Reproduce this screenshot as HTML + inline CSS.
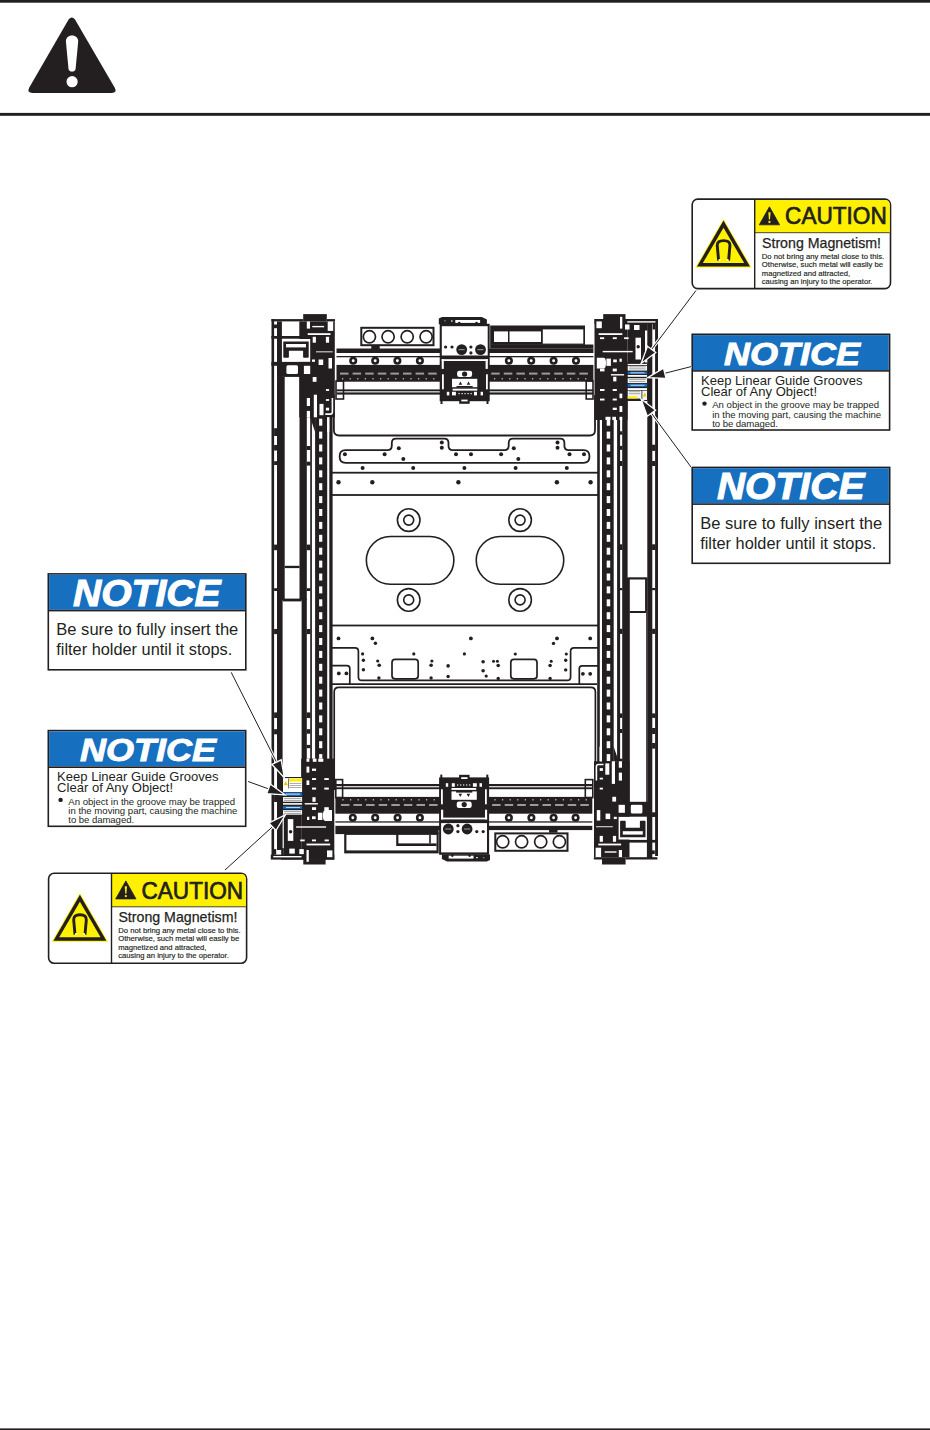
<!DOCTYPE html>
<html><head><meta charset="utf-8"><style>
html,body{margin:0;padding:0;background:#fff;}
body{width:930px;height:1430px;overflow:hidden;position:relative;}
svg{position:absolute;left:0;top:0;}
text{font-family:"Liberation Sans",sans-serif;}
</style></head><body>
<svg width="930" height="1430" viewBox="0 0 930 1430">
<rect x="0.00" y="0.00" width="930.00" height="2.70" fill="#231f20" />
<rect x="0.00" y="112.90" width="930.00" height="2.90" fill="#231f20" />
<rect x="0.00" y="1428.40" width="930.00" height="1.60" fill="#231f20" />
<path d="M68.6,19.6 Q71.8,15.2 75.0,19.6 L114.6,87.6 Q117.6,92.9 111.6,92.9 L32.5,92.9 Q26.5,92.9 29.3,87.6 Z" fill="#231f20"/>
<path d="M72.0,35.5 C75.6,35.5 78.4,38 78.2,41.6 L75.6,68.8 Q75.3,71.6 72.0,71.6 Q68.8,71.6 68.5,68.8 L65.9,41.6 C65.7,38 68.4,35.5 72.0,35.5 Z" fill="#fff"/>
<circle cx="72.10" cy="81.70" r="5.6" fill="#fff"/>
<rect x="692.20" y="199.10" width="198.30" height="89.50" rx="5.5" fill="#fff" stroke="#231f20" stroke-width="1.6"/>
<path d="M754.50,199.90 L885.00,199.90 Q889.70,199.90 889.70,204.60 L889.70,232.30 L754.50,232.30 Z" fill="#fff000"/>
<rect x="754.40" y="232.10" width="135.30" height="1.10" fill="#5a5520" />
<rect x="754.00" y="199.10" width="1.40" height="89.50" fill="#231f20" />
<path d="M769.45,206.80 L779.60,224.80 L759.30,224.80 Z" fill="#231f20" stroke="#231f20" stroke-width="0.8" stroke-linejoin="round"/>
<path d="M768.30,212.20 L770.60,212.20 L770.00,219.60 L768.90,219.60 Z" fill="#fff000"/>
<circle cx="769.45" cy="222.00" r="1.15" fill="#fff000"/>
<text x="785.10" y="224.40" font-size="23.2" font-weight="normal" font-style="normal" fill="#231f20" textLength="101.60" lengthAdjust="spacingAndGlyphs" stroke="#231f20" stroke-width="0.7">CAUTION</text>
<text x="762.00" y="247.80" font-size="14.6" font-weight="normal" font-style="normal" fill="#231f20" textLength="119.00" lengthAdjust="spacingAndGlyphs" stroke="#231f20" stroke-width="0.25">Strong Magnetism!</text>
<text x="761.80" y="259.00" font-size="7.0" font-weight="normal" font-style="normal" fill="#231f20" textLength="122.40" lengthAdjust="spacingAndGlyphs" stroke="#231f20" stroke-width="0.15">Do not bring any metal close to this.</text>
<text x="761.80" y="267.27" font-size="7.0" font-weight="normal" font-style="normal" fill="#231f20" textLength="121.20" lengthAdjust="spacingAndGlyphs" stroke="#231f20" stroke-width="0.15">Otherwise, such metal will easily be</text>
<text x="761.80" y="275.54" font-size="7.0" font-weight="normal" font-style="normal" fill="#231f20" textLength="88.30" lengthAdjust="spacingAndGlyphs" stroke="#231f20" stroke-width="0.15">magnetized and attracted,</text>
<text x="761.80" y="283.81" font-size="7.0" font-weight="normal" font-style="normal" fill="#231f20" textLength="110.60" lengthAdjust="spacingAndGlyphs" stroke="#231f20" stroke-width="0.15">causing an injury to the operator.</text>
<path d="M723.50,219.00 L751.60,267.60 L695.40,267.60 Z" fill="#fff000"/>
<path d="M723.50,220.60 L750.00,266.60 L697.00,266.60 Z" fill="#231f20"/>
<path d="M723.50,227.70 L744.20,263.10 L702.80,263.10 Z" fill="#fff000"/>
<path d="M718.60,260.50 L717.30,246.00 Q716.80,240.60 723.60,240.60 Q730.40,240.60 729.90,246.00 L728.60,260.50" fill="none" stroke="#231f20" stroke-width="2.9"/>
<circle cx="719.60" cy="260.00" r="1.1" fill="#fff"/>
<circle cx="727.60" cy="260.00" r="1.1" fill="#fff"/>
<rect x="692.20" y="334.30" width="197.40" height="95.70" fill="#fff" stroke="#231f20" stroke-width="1.6"/>
<rect x="693.00" y="335.10" width="195.80" height="35.00" fill="#176fbf" />
<rect x="692.20" y="370.10" width="197.40" height="1.60" fill="#231f20" />
<text x="724.00" y="364.60" font-size="31.8" font-weight="bold" font-style="italic" fill="#fff" textLength="136.00" lengthAdjust="spacingAndGlyphs" stroke="#fff" stroke-width="0.9">NOTICE</text>
<text x="701.00" y="384.80" font-size="13.3" font-weight="normal" font-style="normal" fill="#231f20" textLength="161.50" lengthAdjust="spacingAndGlyphs" >Keep Linear Guide Grooves</text>
<text x="701.00" y="396.00" font-size="13.3" font-weight="normal" font-style="normal" fill="#231f20" textLength="116.00" lengthAdjust="spacingAndGlyphs" >Clear of Any Object!</text>
<circle cx="704.50" cy="403.60" r="2.2" fill="#231f20"/>
<text x="712.20" y="408.40" font-size="9.6" font-weight="normal" font-style="normal" fill="#231f20" textLength="166.90" lengthAdjust="spacing" >An object in the groove may be trapped</text>
<text x="712.20" y="417.75" font-size="9.6" font-weight="normal" font-style="normal" fill="#231f20" textLength="169.00" lengthAdjust="spacing" >in the moving part, causing the machine</text>
<text x="712.20" y="427.10" font-size="9.6" font-weight="normal" font-style="normal" fill="#231f20" textLength="65.80" lengthAdjust="spacing" >to be damaged.</text>
<rect x="692.20" y="467.40" width="197.50" height="95.90" fill="#fff" stroke="#231f20" stroke-width="1.6"/>
<rect x="693.00" y="468.20" width="195.90" height="35.10" fill="#176fbf" />
<rect x="692.20" y="503.30" width="197.50" height="1.60" fill="#231f20" />
<text x="716.90" y="499.00" font-size="36.4" font-weight="bold" font-style="italic" fill="#fff" textLength="147.60" lengthAdjust="spacingAndGlyphs" stroke="#fff" stroke-width="1.0">NOTICE</text>
<text x="700.20" y="528.60" font-size="16.3" font-weight="normal" font-style="normal" fill="#231f20" textLength="182.00" lengthAdjust="spacingAndGlyphs" >Be sure to fully insert the</text>
<text x="700.20" y="548.70" font-size="16.3" font-weight="normal" font-style="normal" fill="#231f20" textLength="176.00" lengthAdjust="spacingAndGlyphs" >filter holder until it stops.</text>
<rect x="48.30" y="573.90" width="197.50" height="95.90" fill="#fff" stroke="#231f20" stroke-width="1.6"/>
<rect x="49.10" y="574.70" width="195.90" height="35.10" fill="#176fbf" />
<rect x="48.30" y="609.80" width="197.50" height="1.60" fill="#231f20" />
<text x="73.00" y="605.50" font-size="36.4" font-weight="bold" font-style="italic" fill="#fff" textLength="147.60" lengthAdjust="spacingAndGlyphs" stroke="#fff" stroke-width="1.0">NOTICE</text>
<text x="56.30" y="635.10" font-size="16.3" font-weight="normal" font-style="normal" fill="#231f20" textLength="182.00" lengthAdjust="spacingAndGlyphs" >Be sure to fully insert the</text>
<text x="56.30" y="655.20" font-size="16.3" font-weight="normal" font-style="normal" fill="#231f20" textLength="176.00" lengthAdjust="spacingAndGlyphs" >filter holder until it stops.</text>
<rect x="48.30" y="730.60" width="197.40" height="95.70" fill="#fff" stroke="#231f20" stroke-width="1.6"/>
<rect x="49.10" y="731.40" width="195.80" height="35.00" fill="#176fbf" />
<rect x="48.30" y="766.40" width="197.40" height="1.60" fill="#231f20" />
<text x="80.10" y="760.90" font-size="31.8" font-weight="bold" font-style="italic" fill="#fff" textLength="136.00" lengthAdjust="spacingAndGlyphs" stroke="#fff" stroke-width="0.9">NOTICE</text>
<text x="57.10" y="781.10" font-size="13.3" font-weight="normal" font-style="normal" fill="#231f20" textLength="161.50" lengthAdjust="spacingAndGlyphs" >Keep Linear Guide Grooves</text>
<text x="57.10" y="792.30" font-size="13.3" font-weight="normal" font-style="normal" fill="#231f20" textLength="116.00" lengthAdjust="spacingAndGlyphs" >Clear of Any Object!</text>
<circle cx="60.60" cy="799.90" r="2.2" fill="#231f20"/>
<text x="68.30" y="804.70" font-size="9.6" font-weight="normal" font-style="normal" fill="#231f20" textLength="166.90" lengthAdjust="spacing" >An object in the groove may be trapped</text>
<text x="68.30" y="814.05" font-size="9.6" font-weight="normal" font-style="normal" fill="#231f20" textLength="169.00" lengthAdjust="spacing" >in the moving part, causing the machine</text>
<text x="68.30" y="823.40" font-size="9.6" font-weight="normal" font-style="normal" fill="#231f20" textLength="65.80" lengthAdjust="spacing" >to be damaged.</text>
<rect x="48.60" y="873.20" width="198.00" height="90.00" rx="5.5" fill="#fff" stroke="#231f20" stroke-width="1.6"/>
<path d="M111.30,874.00 L241.10,874.00 Q245.80,874.00 245.80,878.70 L245.80,906.40 L111.30,906.40 Z" fill="#fff000"/>
<rect x="111.20" y="906.20" width="134.60" height="1.10" fill="#5a5520" />
<rect x="110.80" y="873.20" width="1.40" height="90.00" fill="#231f20" />
<path d="M125.85,880.90 L136.00,898.90 L115.70,898.90 Z" fill="#231f20" stroke="#231f20" stroke-width="0.8" stroke-linejoin="round"/>
<path d="M124.70,886.30 L127.00,886.30 L126.40,893.70 L125.30,893.70 Z" fill="#fff000"/>
<circle cx="125.85" cy="896.10" r="1.15" fill="#fff000"/>
<text x="141.50" y="898.50" font-size="23.2" font-weight="normal" font-style="normal" fill="#231f20" textLength="101.60" lengthAdjust="spacingAndGlyphs" stroke="#231f20" stroke-width="0.7">CAUTION</text>
<text x="118.40" y="921.90" font-size="14.6" font-weight="normal" font-style="normal" fill="#231f20" textLength="119.00" lengthAdjust="spacingAndGlyphs" stroke="#231f20" stroke-width="0.25">Strong Magnetism!</text>
<text x="118.20" y="933.10" font-size="7.0" font-weight="normal" font-style="normal" fill="#231f20" textLength="122.40" lengthAdjust="spacingAndGlyphs" stroke="#231f20" stroke-width="0.15">Do not bring any metal close to this.</text>
<text x="118.20" y="941.37" font-size="7.0" font-weight="normal" font-style="normal" fill="#231f20" textLength="121.20" lengthAdjust="spacingAndGlyphs" stroke="#231f20" stroke-width="0.15">Otherwise, such metal will easily be</text>
<text x="118.20" y="949.64" font-size="7.0" font-weight="normal" font-style="normal" fill="#231f20" textLength="88.30" lengthAdjust="spacingAndGlyphs" stroke="#231f20" stroke-width="0.15">magnetized and attracted,</text>
<text x="118.20" y="957.91" font-size="7.0" font-weight="normal" font-style="normal" fill="#231f20" textLength="110.60" lengthAdjust="spacingAndGlyphs" stroke="#231f20" stroke-width="0.15">causing an injury to the operator.</text>
<path d="M79.90,893.10 L108.00,941.70 L51.80,941.70 Z" fill="#fff000"/>
<path d="M79.90,894.70 L106.40,940.70 L53.40,940.70 Z" fill="#231f20"/>
<path d="M79.90,901.80 L100.60,937.20 L59.20,937.20 Z" fill="#fff000"/>
<path d="M75.00,934.60 L73.70,920.10 Q73.20,914.70 80.00,914.70 Q86.80,914.70 86.30,920.10 L85.00,934.60" fill="none" stroke="#231f20" stroke-width="2.9"/>
<circle cx="76.00" cy="934.10" r="1.1" fill="#fff"/>
<circle cx="84.00" cy="934.10" r="1.1" fill="#fff"/>
<rect x="271.50" y="319.00" width="2.60" height="537.00" fill="#231f20" />
<rect x="274.10" y="428.20" width="3.10" height="7.80" fill="#231f20" />
<rect x="274.10" y="445.00" width="3.10" height="5.50" fill="#231f20" />
<rect x="274.10" y="461.20" width="3.10" height="3.80" fill="#231f20" />
<rect x="274.10" y="544.60" width="3.10" height="5.60" fill="#231f20" />
<rect x="274.10" y="588.20" width="3.10" height="2.80" fill="#231f20" />
<rect x="274.10" y="629.00" width="3.10" height="5.10" fill="#231f20" />
<rect x="274.10" y="712.40" width="3.10" height="5.60" fill="#231f20" />
<rect x="274.10" y="729.20" width="3.10" height="5.10" fill="#231f20" />
<rect x="274.10" y="795.00" width="3.10" height="7.00" fill="#231f20" />
<rect x="277.00" y="376.70" width="7.70" height="223.30" fill="#231f20" />
<rect x="277.00" y="599.00" width="5.60" height="251.00" fill="#231f20" />
<rect x="284.70" y="565.80" width="14.90" height="2.30" fill="#231f20" />
<rect x="282.60" y="598.60" width="19.00" height="2.80" fill="#231f20" />
<rect x="299.50" y="376.00" width="7.30" height="224.00" fill="#231f20" />
<rect x="301.60" y="599.00" width="5.20" height="181.00" fill="#231f20" />
<rect x="306.60" y="405.80" width="3.80" height="5.00" fill="#231f20" />
<rect x="306.60" y="446.00" width="3.80" height="4.00" fill="#231f20" />
<rect x="306.60" y="461.70" width="3.80" height="3.90" fill="#231f20" />
<rect x="306.60" y="544.60" width="3.80" height="5.60" fill="#231f20" />
<rect x="306.60" y="588.20" width="3.80" height="2.80" fill="#231f20" />
<rect x="306.60" y="629.00" width="3.80" height="5.10" fill="#231f20" />
<rect x="306.60" y="712.40" width="3.80" height="5.60" fill="#231f20" />
<rect x="306.60" y="729.20" width="3.80" height="4.50" fill="#231f20" />
<rect x="306.60" y="744.90" width="3.80" height="3.30" fill="#231f20" />
<rect x="310.20" y="400.00" width="1.70" height="380.00" fill="#231f20" />
<rect x="315.10" y="380.00" width="12.10" height="420.00" fill="#231f20" />
<rect x="319.10" y="418.70" width="3.20" height="7.00" fill="#fff" />
<rect x="319.10" y="431.60" width="3.20" height="7.00" fill="#fff" />
<rect x="319.10" y="444.50" width="3.20" height="7.00" fill="#fff" />
<rect x="319.10" y="457.40" width="3.20" height="7.00" fill="#fff" />
<rect x="319.10" y="470.30" width="3.20" height="7.00" fill="#fff" />
<rect x="319.10" y="483.20" width="3.20" height="7.00" fill="#fff" />
<rect x="319.10" y="496.10" width="3.20" height="7.00" fill="#fff" />
<rect x="319.10" y="509.00" width="3.20" height="7.00" fill="#fff" />
<rect x="319.10" y="521.90" width="3.20" height="7.00" fill="#fff" />
<rect x="319.10" y="534.80" width="3.20" height="7.00" fill="#fff" />
<rect x="319.10" y="547.70" width="3.20" height="7.00" fill="#fff" />
<rect x="319.10" y="560.60" width="3.20" height="7.00" fill="#fff" />
<rect x="319.10" y="573.50" width="3.20" height="7.00" fill="#fff" />
<rect x="319.10" y="586.40" width="3.20" height="7.00" fill="#fff" />
<rect x="319.10" y="599.30" width="3.20" height="7.00" fill="#fff" />
<rect x="319.10" y="612.20" width="3.20" height="7.00" fill="#fff" />
<rect x="319.10" y="625.10" width="3.20" height="7.00" fill="#fff" />
<rect x="319.10" y="638.00" width="3.20" height="7.00" fill="#fff" />
<rect x="319.10" y="650.90" width="3.20" height="7.00" fill="#fff" />
<rect x="319.10" y="663.80" width="3.20" height="7.00" fill="#fff" />
<rect x="319.10" y="676.70" width="3.20" height="7.00" fill="#fff" />
<rect x="319.10" y="689.60" width="3.20" height="7.00" fill="#fff" />
<rect x="319.10" y="702.50" width="3.20" height="7.00" fill="#fff" />
<rect x="319.10" y="715.40" width="3.20" height="7.00" fill="#fff" />
<rect x="319.10" y="728.30" width="3.20" height="7.00" fill="#fff" />
<rect x="319.10" y="741.20" width="3.20" height="7.00" fill="#fff" />
<rect x="319.10" y="754.10" width="3.20" height="7.00" fill="#fff" />
<rect x="319.10" y="767.00" width="3.20" height="7.00" fill="#fff" />
<rect x="329.30" y="400.00" width="3.30" height="390.00" fill="#231f20" />
<rect x="655.10" y="319.00" width="2.90" height="537.00" fill="#231f20" />
<rect x="652.10" y="444.70" width="3.20" height="6.20" fill="#231f20" />
<rect x="652.10" y="461.00" width="3.20" height="5.00" fill="#231f20" />
<rect x="652.10" y="544.30" width="3.20" height="5.70" fill="#231f20" />
<rect x="652.10" y="588.00" width="3.20" height="2.20" fill="#231f20" />
<rect x="652.10" y="628.80" width="3.20" height="5.10" fill="#231f20" />
<rect x="652.10" y="713.40" width="3.20" height="4.50" fill="#231f20" />
<rect x="652.10" y="728.00" width="3.20" height="6.00" fill="#231f20" />
<rect x="652.10" y="743.00" width="3.20" height="5.60" fill="#231f20" />
<rect x="652.10" y="812.40" width="3.20" height="4.50" fill="#231f20" />
<rect x="647.30" y="320.00" width="5.00" height="538.00" fill="#231f20" />
<rect x="645.10" y="578.00" width="2.40" height="33.50" fill="#231f20" />
<rect x="646.20" y="611.50" width="1.30" height="191.50" fill="#231f20" />
<rect x="627.40" y="577.30" width="19.90" height="2.20" fill="#231f20" />
<rect x="629.60" y="611.00" width="16.80" height="2.00" fill="#231f20" />
<rect x="622.20" y="380.00" width="5.40" height="198.00" fill="#231f20" />
<rect x="622.20" y="578.00" width="7.60" height="225.00" fill="#231f20" />
<rect x="619.80" y="431.30" width="2.60" height="3.40" fill="#231f20" />
<rect x="619.80" y="445.90" width="2.60" height="3.90" fill="#231f20" />
<rect x="619.80" y="461.00" width="2.60" height="5.00" fill="#231f20" />
<rect x="619.80" y="544.30" width="2.60" height="5.70" fill="#231f20" />
<rect x="619.80" y="588.00" width="2.60" height="2.20" fill="#231f20" />
<rect x="619.80" y="628.80" width="2.60" height="5.10" fill="#231f20" />
<rect x="619.80" y="713.40" width="2.60" height="4.50" fill="#231f20" />
<rect x="619.80" y="729.00" width="2.60" height="4.00" fill="#231f20" />
<rect x="619.80" y="758.70" width="2.60" height="3.30" fill="#231f20" />
<rect x="619.80" y="771.00" width="2.60" height="2.80" fill="#231f20" />
<rect x="617.10" y="380.00" width="3.00" height="420.00" fill="#231f20" />
<rect x="602.00" y="380.00" width="11.70" height="420.00" fill="#231f20" />
<rect x="606.70" y="418.70" width="3.50" height="7.00" fill="#fff" />
<rect x="606.70" y="431.60" width="3.50" height="7.00" fill="#fff" />
<rect x="606.70" y="444.50" width="3.50" height="7.00" fill="#fff" />
<rect x="606.70" y="457.40" width="3.50" height="7.00" fill="#fff" />
<rect x="606.70" y="470.30" width="3.50" height="7.00" fill="#fff" />
<rect x="606.70" y="483.20" width="3.50" height="7.00" fill="#fff" />
<rect x="606.70" y="496.10" width="3.50" height="7.00" fill="#fff" />
<rect x="606.70" y="509.00" width="3.50" height="7.00" fill="#fff" />
<rect x="606.70" y="521.90" width="3.50" height="7.00" fill="#fff" />
<rect x="606.70" y="534.80" width="3.50" height="7.00" fill="#fff" />
<rect x="606.70" y="547.70" width="3.50" height="7.00" fill="#fff" />
<rect x="606.70" y="560.60" width="3.50" height="7.00" fill="#fff" />
<rect x="606.70" y="573.50" width="3.50" height="7.00" fill="#fff" />
<rect x="606.70" y="586.40" width="3.50" height="7.00" fill="#fff" />
<rect x="606.70" y="599.30" width="3.50" height="7.00" fill="#fff" />
<rect x="606.70" y="612.20" width="3.50" height="7.00" fill="#fff" />
<rect x="606.70" y="625.10" width="3.50" height="7.00" fill="#fff" />
<rect x="606.70" y="638.00" width="3.50" height="7.00" fill="#fff" />
<rect x="606.70" y="650.90" width="3.50" height="7.00" fill="#fff" />
<rect x="606.70" y="663.80" width="3.50" height="7.00" fill="#fff" />
<rect x="606.70" y="676.70" width="3.50" height="7.00" fill="#fff" />
<rect x="606.70" y="689.60" width="3.50" height="7.00" fill="#fff" />
<rect x="606.70" y="702.50" width="3.50" height="7.00" fill="#fff" />
<rect x="606.70" y="715.40" width="3.50" height="7.00" fill="#fff" />
<rect x="606.70" y="728.30" width="3.50" height="7.00" fill="#fff" />
<rect x="606.70" y="741.20" width="3.50" height="7.00" fill="#fff" />
<rect x="606.70" y="754.10" width="3.50" height="7.00" fill="#fff" />
<rect x="606.70" y="767.00" width="3.50" height="7.00" fill="#fff" />
<rect x="597.20" y="400.00" width="2.60" height="390.00" fill="#231f20" />
<rect x="627.60" y="802.90" width="19.90" height="3.10" fill="#231f20" />
<path d="M333.9,395 V430.3 Q333.9,435.5 339.1,435.5 H589.8 Q595,435.5 595,430.3 V395" fill="none" stroke="#231f20" stroke-width="1.8"/>
<path d="M345.5,450.1 H387.5 Q391.8,450.1 391.8,445.8 V443 Q391.8,438.7 396.1,438.7 H444.2 Q448.5,438.7 448.5,443 V445.8 Q448.5,450.1 452.8,450.1 H504.4 Q508.7,450.1 508.7,445.8 V443 Q508.7,438.7 513,438.7 H560.1 Q564.4,438.7 564.4,443 V445.8 Q564.4,450.1 568.7,450.1 H583.6 Q589.4,450.1 589.4,455.9 V457 Q589.4,462.8 583.6,462.8 H345.5 Q339.7,462.8 339.7,457 V455.9 Q339.7,450.1 345.5,450.1 Z" fill="none" stroke="#231f20" stroke-width="1.8"/>
<circle cx="344.90" cy="454.30" r="2.0" fill="#231f20"/>
<circle cx="384.60" cy="454.30" r="2.0" fill="#231f20"/>
<circle cx="398.80" cy="448.30" r="2.0" fill="#231f20"/>
<circle cx="403.30" cy="459.10" r="2.0" fill="#231f20"/>
<circle cx="441.80" cy="442.60" r="2.0" fill="#231f20"/>
<circle cx="441.80" cy="447.70" r="2.0" fill="#231f20"/>
<circle cx="456.00" cy="454.30" r="2.0" fill="#231f20"/>
<circle cx="471.00" cy="454.30" r="2.0" fill="#231f20"/>
<circle cx="501.10" cy="454.30" r="2.0" fill="#231f20"/>
<circle cx="513.80" cy="448.30" r="2.0" fill="#231f20"/>
<circle cx="518.30" cy="459.10" r="2.0" fill="#231f20"/>
<circle cx="557.50" cy="442.60" r="2.0" fill="#231f20"/>
<circle cx="557.50" cy="447.70" r="2.0" fill="#231f20"/>
<circle cx="569.50" cy="454.30" r="2.0" fill="#231f20"/>
<circle cx="584.00" cy="454.30" r="2.0" fill="#231f20"/>
<circle cx="362.60" cy="467.90" r="2.0" fill="#231f20"/>
<circle cx="413.20" cy="467.90" r="2.0" fill="#231f20"/>
<circle cx="464.40" cy="467.90" r="2.0" fill="#231f20"/>
<circle cx="515.60" cy="467.90" r="2.0" fill="#231f20"/>
<circle cx="566.80" cy="467.90" r="2.0" fill="#231f20"/>
<rect x="331.60" y="471.80" width="267.40" height="1.80" fill="#231f20" />
<circle cx="338.50" cy="482.30" r="2.2" fill="#231f20"/>
<circle cx="372.30" cy="482.30" r="2.2" fill="#231f20"/>
<circle cx="458.40" cy="482.30" r="2.2" fill="#231f20"/>
<circle cx="556.90" cy="482.30" r="2.2" fill="#231f20"/>
<circle cx="590.60" cy="482.30" r="2.2" fill="#231f20"/>
<rect x="331.60" y="494.10" width="267.40" height="1.80" fill="#231f20" />
<circle cx="408.70" cy="520.10" r="11.3" fill="none" stroke="#231f20" stroke-width="1.6"/>
<circle cx="408.70" cy="520.10" r="5.0" fill="none" stroke="#231f20" stroke-width="1.6"/>
<circle cx="520.10" cy="520.10" r="11.3" fill="none" stroke="#231f20" stroke-width="1.6"/>
<circle cx="520.10" cy="520.10" r="5.0" fill="none" stroke="#231f20" stroke-width="1.6"/>
<circle cx="408.70" cy="599.90" r="11.3" fill="none" stroke="#231f20" stroke-width="1.6"/>
<circle cx="408.70" cy="599.90" r="5.0" fill="none" stroke="#231f20" stroke-width="1.6"/>
<circle cx="520.10" cy="599.90" r="11.3" fill="none" stroke="#231f20" stroke-width="1.6"/>
<circle cx="520.10" cy="599.90" r="5.0" fill="none" stroke="#231f20" stroke-width="1.6"/>
<rect x="366.35" y="536.45" width="87.5" height="47.8" rx="23.9" fill="none" stroke="#231f20" stroke-width="1.6"/>
<rect x="476.25" y="536.45" width="87.5" height="47.8" rx="23.9" fill="none" stroke="#231f20" stroke-width="1.6"/>
<rect x="331.60" y="624.60" width="267.40" height="1.80" fill="#231f20" />
<circle cx="338.50" cy="638.40" r="1.9" fill="#231f20"/>
<circle cx="372.40" cy="638.40" r="1.9" fill="#231f20"/>
<circle cx="375.40" cy="643.30" r="1.7" fill="#231f20"/>
<circle cx="362.60" cy="653.90" r="1.6" fill="#231f20"/>
<circle cx="363.40" cy="660.30" r="1.7" fill="#231f20"/>
<circle cx="363.40" cy="669.70" r="1.7" fill="#231f20"/>
<circle cx="377.70" cy="661.00" r="1.6" fill="#231f20"/>
<circle cx="379.20" cy="665.20" r="1.8" fill="#231f20"/>
<circle cx="378.90" cy="678.00" r="1.7" fill="#231f20"/>
<circle cx="413.80" cy="653.90" r="1.6" fill="#231f20"/>
<circle cx="431.90" cy="661.00" r="1.6" fill="#231f20"/>
<circle cx="431.10" cy="665.20" r="1.8" fill="#231f20"/>
<circle cx="431.10" cy="678.00" r="1.7" fill="#231f20"/>
<circle cx="448.10" cy="665.90" r="1.8" fill="#231f20"/>
<circle cx="448.10" cy="676.50" r="1.7" fill="#231f20"/>
<circle cx="464.40" cy="653.90" r="1.6" fill="#231f20"/>
<circle cx="338.80" cy="673.40" r="1.9" fill="#231f20"/>
<circle cx="346.40" cy="673.40" r="1.9" fill="#231f20"/>
<circle cx="470.90" cy="638.40" r="1.9" fill="#231f20"/>
<circle cx="557.00" cy="638.40" r="1.9" fill="#231f20"/>
<circle cx="553.50" cy="643.40" r="1.7" fill="#231f20"/>
<circle cx="590.20" cy="638.40" r="1.9" fill="#231f20"/>
<circle cx="515.30" cy="654.00" r="1.6" fill="#231f20"/>
<circle cx="566.30" cy="654.00" r="1.6" fill="#231f20"/>
<circle cx="565.70" cy="660.20" r="1.7" fill="#231f20"/>
<circle cx="565.70" cy="669.90" r="1.7" fill="#231f20"/>
<circle cx="483.10" cy="661.80" r="1.8" fill="#231f20"/>
<circle cx="483.10" cy="670.70" r="1.8" fill="#231f20"/>
<circle cx="486.20" cy="676.10" r="1.6" fill="#231f20"/>
<circle cx="493.50" cy="661.30" r="1.5" fill="#231f20"/>
<circle cx="497.40" cy="661.30" r="1.5" fill="#231f20"/>
<circle cx="498.20" cy="665.50" r="1.8" fill="#231f20"/>
<circle cx="498.20" cy="678.50" r="1.7" fill="#231f20"/>
<circle cx="551.20" cy="661.30" r="1.5" fill="#231f20"/>
<circle cx="550.10" cy="665.50" r="1.8" fill="#231f20"/>
<circle cx="550.10" cy="678.50" r="1.7" fill="#231f20"/>
<circle cx="582.90" cy="673.80" r="1.9" fill="#231f20"/>
<circle cx="590.20" cy="673.80" r="1.9" fill="#231f20"/>
<path d="M332,647.8 H355 Q358.4,647.8 358.4,651.2 V677 Q358.4,680.4 361.8,680.4 H567.2 Q570.6,680.4 570.6,677 V651.2 Q570.6,647.8 574,647.8 H598" fill="none" stroke="#231f20" stroke-width="1.7"/>
<path d="M332,665.6 H347 Q349.8,665.6 349.8,668.4 V684.2 M598,665.8 H582 Q579.3,665.8 579.3,668.6 V684" fill="none" stroke="#231f20" stroke-width="1.7"/>
<rect x="392.00" y="659.4" width="26.2" height="19.4" rx="3" fill="none" stroke="#231f20" stroke-width="1.7"/>
<rect x="510.80" y="659.4" width="26.2" height="19.4" rx="3" fill="none" stroke="#231f20" stroke-width="1.7"/>
<path d="M332,684.2 H597" stroke="#231f20" stroke-width="1.7"/>
<path d="M334.2,790 V692 Q334.2,687.4 338.8,687.4 H590.8 Q595.4,687.4 595.4,692 V790" fill="none" stroke="#231f20" stroke-width="1.7"/>
<g>
<rect x="361.3" y="327.8" width="72.2" height="17.4" fill="none" stroke="#231f20" stroke-width="2"/>
<circle cx="369.40" cy="336.80" r="6.1" fill="none" stroke="#231f20" stroke-width="1.7"/>
<circle cx="388.10" cy="336.80" r="6.1" fill="none" stroke="#231f20" stroke-width="1.7"/>
<circle cx="407.20" cy="336.80" r="6.1" fill="none" stroke="#231f20" stroke-width="1.7"/>
<circle cx="426.10" cy="336.80" r="6.1" fill="none" stroke="#231f20" stroke-width="1.7"/>
<rect x="371.30" y="346.00" width="8.40" height="3.00" fill="#231f20" />
<rect x="490.20" y="325.50" width="94.80" height="19.40" fill="#231f20" />
<rect x="494.00" y="331.40" width="14.00" height="10.60" fill="#fff" />
<rect x="509.50" y="331.40" width="31.50" height="10.60" fill="#fff" />
<rect x="542.80" y="329.40" width="40.50" height="14.20" fill="#fff" />
<rect x="336.50" y="348.50" width="256.90" height="4.50" fill="#231f20" />
<rect x="490.20" y="344.50" width="103.20" height="4.10" fill="#231f20" />
<rect x="336.50" y="353.00" width="256.90" height="2.90" fill="#fff" />
<rect x="336.50" y="356.00" width="256.90" height="1.30" fill="#231f20" />
<circle cx="353.20" cy="360.80" r="2.75" fill="none" stroke="#231f20" stroke-width="2.6"/>
<circle cx="375.20" cy="360.80" r="2.75" fill="none" stroke="#231f20" stroke-width="2.6"/>
<circle cx="397.40" cy="360.80" r="2.75" fill="none" stroke="#231f20" stroke-width="2.6"/>
<circle cx="419.90" cy="360.80" r="2.75" fill="none" stroke="#231f20" stroke-width="2.6"/>
<circle cx="508.90" cy="360.80" r="2.75" fill="none" stroke="#231f20" stroke-width="2.6"/>
<circle cx="531.20" cy="360.80" r="2.75" fill="none" stroke="#231f20" stroke-width="2.6"/>
<circle cx="553.60" cy="360.80" r="2.75" fill="none" stroke="#231f20" stroke-width="2.6"/>
<circle cx="576.00" cy="360.80" r="2.75" fill="none" stroke="#231f20" stroke-width="2.6"/>
<rect x="336.50" y="364.90" width="256.90" height="16.80" fill="#231f20" />
<rect x="340.00" y="372.60" width="8.50" height="2.00" fill="#9a9a9a" />
<rect x="352.60" y="372.60" width="8.50" height="2.00" fill="#9a9a9a" />
<rect x="365.20" y="372.60" width="8.50" height="2.00" fill="#9a9a9a" />
<rect x="377.80" y="372.60" width="8.50" height="2.00" fill="#9a9a9a" />
<rect x="390.40" y="372.60" width="8.50" height="2.00" fill="#9a9a9a" />
<rect x="403.00" y="372.60" width="8.50" height="2.00" fill="#9a9a9a" />
<rect x="415.60" y="372.60" width="8.50" height="2.00" fill="#9a9a9a" />
<rect x="428.20" y="372.60" width="8.50" height="2.00" fill="#9a9a9a" />
<rect x="440.80" y="372.60" width="8.50" height="2.00" fill="#9a9a9a" />
<rect x="453.40" y="372.60" width="8.50" height="2.00" fill="#9a9a9a" />
<rect x="466.00" y="372.60" width="8.50" height="2.00" fill="#9a9a9a" />
<rect x="478.60" y="372.60" width="8.50" height="2.00" fill="#9a9a9a" />
<rect x="491.20" y="372.60" width="8.50" height="2.00" fill="#9a9a9a" />
<rect x="503.80" y="372.60" width="8.50" height="2.00" fill="#9a9a9a" />
<rect x="516.40" y="372.60" width="8.50" height="2.00" fill="#9a9a9a" />
<rect x="529.00" y="372.60" width="8.50" height="2.00" fill="#9a9a9a" />
<rect x="541.60" y="372.60" width="8.50" height="2.00" fill="#9a9a9a" />
<rect x="554.20" y="372.60" width="8.50" height="2.00" fill="#9a9a9a" />
<rect x="566.80" y="372.60" width="8.50" height="2.00" fill="#9a9a9a" />
<rect x="579.40" y="372.60" width="8.50" height="2.00" fill="#9a9a9a" />
<rect x="342.00" y="378.20" width="1.20" height="1.20" fill="#ddd" />
<rect x="349.60" y="378.20" width="1.20" height="1.20" fill="#ddd" />
<rect x="357.20" y="378.20" width="1.20" height="1.20" fill="#ddd" />
<rect x="364.80" y="378.20" width="1.20" height="1.20" fill="#ddd" />
<rect x="372.40" y="378.20" width="1.20" height="1.20" fill="#ddd" />
<rect x="380.00" y="378.20" width="1.20" height="1.20" fill="#ddd" />
<rect x="387.60" y="378.20" width="1.20" height="1.20" fill="#ddd" />
<rect x="395.20" y="378.20" width="1.20" height="1.20" fill="#ddd" />
<rect x="402.80" y="378.20" width="1.20" height="1.20" fill="#ddd" />
<rect x="410.40" y="378.20" width="1.20" height="1.20" fill="#ddd" />
<rect x="418.00" y="378.20" width="1.20" height="1.20" fill="#ddd" />
<rect x="425.60" y="378.20" width="1.20" height="1.20" fill="#ddd" />
<rect x="433.20" y="378.20" width="1.20" height="1.20" fill="#ddd" />
<rect x="440.80" y="378.20" width="1.20" height="1.20" fill="#ddd" />
<rect x="448.40" y="378.20" width="1.20" height="1.20" fill="#ddd" />
<rect x="456.00" y="378.20" width="1.20" height="1.20" fill="#ddd" />
<rect x="463.60" y="378.20" width="1.20" height="1.20" fill="#ddd" />
<rect x="471.20" y="378.20" width="1.20" height="1.20" fill="#ddd" />
<rect x="478.80" y="378.20" width="1.20" height="1.20" fill="#ddd" />
<rect x="486.40" y="378.20" width="1.20" height="1.20" fill="#ddd" />
<rect x="494.00" y="378.20" width="1.20" height="1.20" fill="#ddd" />
<rect x="501.60" y="378.20" width="1.20" height="1.20" fill="#ddd" />
<rect x="509.20" y="378.20" width="1.20" height="1.20" fill="#ddd" />
<rect x="516.80" y="378.20" width="1.20" height="1.20" fill="#ddd" />
<rect x="524.40" y="378.20" width="1.20" height="1.20" fill="#ddd" />
<rect x="532.00" y="378.20" width="1.20" height="1.20" fill="#ddd" />
<rect x="539.60" y="378.20" width="1.20" height="1.20" fill="#ddd" />
<rect x="547.20" y="378.20" width="1.20" height="1.20" fill="#ddd" />
<rect x="554.80" y="378.20" width="1.20" height="1.20" fill="#ddd" />
<rect x="562.40" y="378.20" width="1.20" height="1.20" fill="#ddd" />
<rect x="570.00" y="378.20" width="1.20" height="1.20" fill="#ddd" />
<rect x="577.60" y="378.20" width="1.20" height="1.20" fill="#ddd" />
<rect x="585.20" y="378.20" width="1.20" height="1.20" fill="#ddd" />
<rect x="336.50" y="389.40" width="256.90" height="1.90" fill="#231f20" />
<rect x="336.50" y="392.40" width="256.90" height="2.20" fill="#231f20" />
<rect x="336" y="381" width="7.5" height="18" fill="none" stroke="#231f20" stroke-width="1.6"/>
<rect x="586.2" y="381" width="6.8" height="18" fill="none" stroke="#231f20" stroke-width="1.6"/>
<path d="M438.8,318.6 L442,317.1 H481.8 L486.9,319.6 V324.2 H438.8 Z" fill="#231f20"/>
<rect x="455.30" y="320.00" width="24.80" height="2.90" fill="#fff" />
<circle cx="459.20" cy="323.00" r="1.3" fill="#231f20"/>
<circle cx="476.50" cy="323.00" r="1.3" fill="#231f20"/>
<rect x="444.50" y="320.40" width="0.90" height="0.90" fill="#fff" />
<rect x="451.00" y="320.40" width="1.60" height="1.20" fill="#fff" />
<rect x="439.70" y="323.80" width="50.00" height="77.40" fill="#231f20" />
<rect x="441.80" y="326.20" width="45.90" height="29.30" fill="#fff" />
<circle cx="445.60" cy="347.00" r="1.6" fill="#231f20"/>
<circle cx="452.00" cy="347.00" r="1.6" fill="#231f20"/>
<circle cx="470.90" cy="347.00" r="1.6" fill="#231f20"/>
<circle cx="470.90" cy="352.90" r="1.6" fill="#231f20"/>
<circle cx="461.70" cy="349.60" r="5.4" fill="#231f20"/>
<rect x="458.70" y="349.00" width="6.00" height="1.20" fill="#888" />
<circle cx="480.50" cy="349.60" r="5.4" fill="#231f20"/>
<rect x="477.50" y="349.00" width="6.00" height="1.20" fill="#888" />
<rect x="441.70" y="359.20" width="46.10" height="1.80" fill="#fff" />
<rect x="441.70" y="359.20" width="2.10" height="9.70" fill="#fff" />
<rect x="485.60" y="359.20" width="2.20" height="9.70" fill="#fff" />
<rect x="442.00" y="374.30" width="1.80" height="15.00" fill="#fff" />
<rect x="486.00" y="374.30" width="1.80" height="15.00" fill="#fff" />
<rect x="457.1" y="370.7" width="15" height="6.3" rx="2.2" fill="#fff"/>
<circle cx="464.60" cy="374.00" r="2.6" fill="#231f20"/>
<rect x="452.00" y="378.80" width="25.30" height="8.40" fill="#fff" />
<path d="M458.6,384.8 L460.4,381.6 L462.2,384.8 Z M466.7,384.8 L468.5,381.6 L470.3,384.8 Z" fill="#231f20"/>
<rect x="456.50" y="386.00" width="16.20" height="1.60" fill="#231f20" />
<rect x="452.60" y="388.70" width="24.70" height="1.90" fill="#fff" />
<rect x="446.80" y="391.80" width="2.50" height="3.60" fill="#fff" />
<rect x="452.00" y="391.80" width="3.90" height="3.60" fill="#fff" />
<rect x="474.00" y="391.80" width="3.00" height="3.60" fill="#fff" />
<rect x="480.60" y="391.80" width="2.40" height="3.60" fill="#fff" />
<rect x="458.50" y="393.00" width="1.20" height="1.20" fill="#fff" />
<rect x="461.50" y="393.00" width="1.20" height="1.20" fill="#fff" />
<rect x="464.50" y="393.00" width="1.20" height="1.20" fill="#fff" />
<rect x="467.50" y="393.00" width="1.20" height="1.20" fill="#fff" />
<rect x="470.50" y="393.00" width="1.20" height="1.20" fill="#fff" />
<rect x="459.20" y="399.00" width="10.50" height="4.80" fill="#231f20" />
<rect x="461.30" y="399.60" width="6.30" height="1.80" fill="#fff" />
<rect x="440.50" y="399.00" width="2.00" height="5.00" fill="#231f20" />
<rect x="486.50" y="399.00" width="2.00" height="5.00" fill="#231f20" />
<rect x="299.30" y="321.40" width="35.50" height="95.90" fill="#231f20" />
<path d="M310.0,417.0 L315.3,417.0 L315.3,432.4 Z" fill="#231f20"/>
<rect x="327.70" y="320.90" width="5.50" height="10.00" fill="#fff" />
<rect x="306.80" y="316.80" width="3.20" height="11.80" fill="#fff" />
<rect x="312.30" y="325.90" width="11.80" height="1.40" fill="#fff" />
<rect x="307.70" y="333.20" width="22.80" height="1.80" fill="#fff" />
<rect x="312.70" y="336.80" width="3.20" height="5.90" fill="#fff" />
<rect x="325.90" y="336.80" width="3.20" height="5.90" fill="#fff" />
<rect x="316.00" y="351.40" width="16.70" height="0.90" fill="#fff" />
<rect x="318.60" y="359.50" width="4.60" height="5.50" fill="#fff" />
<rect x="312.00" y="359.50" width="3.00" height="2.30" fill="#fff" />
<rect x="328.50" y="358.00" width="3.50" height="10.50" fill="#fff" />
<rect x="325.90" y="389.10" width="3.20" height="1.80" fill="#fff" />
<rect x="325.90" y="399.10" width="3.20" height="1.80" fill="#fff" />
<rect x="325.90" y="407.70" width="3.20" height="2.80" fill="#fff" />
<rect x="306.80" y="398.00" width="3.20" height="8.00" fill="#fff" />
<rect x="306.80" y="410.90" width="3.20" height="6.40" fill="#fff" />
<rect x="313.80" y="394.70" width="3.20" height="22.60" fill="#fff" />
<rect x="319.50" y="403.90" width="4.00" height="11.30" fill="#fff" />
<rect x="312.70" y="377.00" width="3.80" height="4.80" fill="#fff" />
<path d="M332.4,398 V412 Q332.4,414.1 330.3,414.1 H325.3" fill="none" stroke="#fff" stroke-width="1.6"/>
<rect x="327.20" y="417.30" width="2.10" height="14.70" fill="#fff" />
<rect x="281.90" y="339.00" width="28.30" height="22.90" fill="#fff" />
<rect x="271.40" y="319.10" width="31.80" height="2.30" fill="#231f20" />
<rect x="303.20" y="314.10" width="23.60" height="7.30" fill="#231f20" />
<rect x="326.80" y="319.10" width="8.20" height="2.30" fill="#231f20" />
<rect x="277.00" y="321.40" width="4.90" height="55.30" fill="#231f20" />
<rect x="274.00" y="324.50" width="3.00" height="3.70" fill="#231f20" />
<rect x="271.40" y="336.00" width="38.60" height="2.70" fill="#231f20" />
<path d="M283.3,341.4 H308.7 V357.0 Q308.7,357.8 307.9,357.8 H303.9 Q303.1,357.8 303.1,357.0 V350.8 H288.9 V357.0 Q288.9,357.8 288.1,357.8 H284.1 Q283.3,357.8 283.3,357.0 Z" fill="#231f20"/>
<rect x="286.00" y="344.00" width="20.00" height="3.40" fill="#fff" />
<rect x="271.40" y="361.90" width="38.80" height="3.90" fill="#231f20" />
<rect x="277.00" y="365.00" width="27.00" height="11.70" fill="#231f20" />
<rect x="286.4" y="365.2" width="11.6" height="8.8" rx="1.5" fill="#fff"/>
<rect x="303.90" y="365.80" width="6.30" height="8.20" fill="#fff" />
<rect x="277.00" y="374.00" width="33.20" height="2.70" fill="#231f20" />
<rect x="594.50" y="319.00" width="63.50" height="5.00" fill="#231f20" />
<rect x="603.20" y="314.10" width="22.30" height="5.40" fill="#231f20" />
<rect x="594.50" y="319.00" width="33.10" height="101.00" fill="#231f20" />
<rect x="627.60" y="319.00" width="17.40" height="81.00" fill="#231f20" />
<rect x="645.00" y="319.00" width="2.60" height="11.50" fill="#231f20" />
<rect x="645.00" y="364.00" width="2.60" height="36.00" fill="#231f20" />
<rect x="627.30" y="321.20" width="28.20" height="1.40" fill="#fff" />
<rect x="596.40" y="321.40" width="5.40" height="6.80" fill="#fff" />
<rect x="620.00" y="316.80" width="2.30" height="11.80" fill="#fff" />
<rect x="625.00" y="324.50" width="4.50" height="5.00" fill="#fff" />
<rect x="634.00" y="325.00" width="5.50" height="5.00" fill="#fff" />
<rect x="598.60" y="333.20" width="23.70" height="1.80" fill="#fff" />
<rect x="600.00" y="337.30" width="4.20" height="1.80" fill="#fff" />
<rect x="612.80" y="337.30" width="4.00" height="1.80" fill="#fff" />
<rect x="624.10" y="337.30" width="4.50" height="1.80" fill="#fff" />
<rect x="635.50" y="337.70" width="5.50" height="21.80" fill="#fff" />
<rect x="602.70" y="350.90" width="30.00" height="1.40" fill="#fff" />
<rect x="606.40" y="358.60" width="4.50" height="7.30" fill="#fff" />
<rect x="613.20" y="359.50" width="3.60" height="2.80" fill="#fff" />
<rect x="619.50" y="358.60" width="2.30" height="3.20" fill="#fff" />
<rect x="600.00" y="368.60" width="4.50" height="2.80" fill="#fff" />
<rect x="612.70" y="368.60" width="4.10" height="2.80" fill="#fff" />
<rect x="610.90" y="374.10" width="13.20" height="1.40" fill="#fff" />
<rect x="613.20" y="376.80" width="3.20" height="4.60" fill="#fff" />
<rect x="600.00" y="389.00" width="4.50" height="2.00" fill="#fff" />
<rect x="612.70" y="389.00" width="4.10" height="2.00" fill="#fff" />
<rect x="619.50" y="393.60" width="2.80" height="4.60" fill="#fff" />
<rect x="600.00" y="398.60" width="4.50" height="1.90" fill="#fff" />
<rect x="612.70" y="398.60" width="4.10" height="1.90" fill="#fff" />
<rect x="612.70" y="407.70" width="4.10" height="2.30" fill="#fff" />
<rect x="619.50" y="406.00" width="2.80" height="6.00" fill="#fff" />
<rect x="605.50" y="416.80" width="5.00" height="3.20" fill="#fff" />
<rect x="612.30" y="416.80" width="3.70" height="3.20" fill="#fff" />
<rect x="619.50" y="416.80" width="2.80" height="3.20" fill="#fff" />
<path d="M596.8,357.7 H603.5 Q606,357.7 606,363 Q606,368.6 603.5,368.6 H596.8 Z" fill="#fff"/>
<circle cx="638.20" cy="346.80" r="1.7" fill="#231f20"/>
<rect x="652.60" y="324.00" width="2.50" height="5.50" fill="#231f20" />
</g>
<g transform="rotate(180 464.4 589.3)">
<rect x="361.3" y="327.8" width="72.2" height="17.4" fill="none" stroke="#231f20" stroke-width="2"/>
<circle cx="369.40" cy="336.80" r="6.1" fill="none" stroke="#231f20" stroke-width="1.7"/>
<circle cx="388.10" cy="336.80" r="6.1" fill="none" stroke="#231f20" stroke-width="1.7"/>
<circle cx="407.20" cy="336.80" r="6.1" fill="none" stroke="#231f20" stroke-width="1.7"/>
<circle cx="426.10" cy="336.80" r="6.1" fill="none" stroke="#231f20" stroke-width="1.7"/>
<rect x="371.30" y="346.00" width="8.40" height="3.00" fill="#231f20" />
<rect x="336.50" y="348.50" width="256.90" height="4.50" fill="#231f20" />
<rect x="490.20" y="344.50" width="103.20" height="4.10" fill="#231f20" />
<rect x="336.50" y="353.00" width="256.90" height="2.90" fill="#fff" />
<rect x="336.50" y="356.00" width="256.90" height="1.30" fill="#231f20" />
<circle cx="353.20" cy="360.80" r="2.75" fill="none" stroke="#231f20" stroke-width="2.6"/>
<circle cx="375.20" cy="360.80" r="2.75" fill="none" stroke="#231f20" stroke-width="2.6"/>
<circle cx="397.40" cy="360.80" r="2.75" fill="none" stroke="#231f20" stroke-width="2.6"/>
<circle cx="419.90" cy="360.80" r="2.75" fill="none" stroke="#231f20" stroke-width="2.6"/>
<circle cx="508.90" cy="360.80" r="2.75" fill="none" stroke="#231f20" stroke-width="2.6"/>
<circle cx="531.20" cy="360.80" r="2.75" fill="none" stroke="#231f20" stroke-width="2.6"/>
<circle cx="553.60" cy="360.80" r="2.75" fill="none" stroke="#231f20" stroke-width="2.6"/>
<circle cx="576.00" cy="360.80" r="2.75" fill="none" stroke="#231f20" stroke-width="2.6"/>
<rect x="336.50" y="364.90" width="256.90" height="16.80" fill="#231f20" />
<rect x="340.00" y="372.60" width="8.50" height="2.00" fill="#9a9a9a" />
<rect x="352.60" y="372.60" width="8.50" height="2.00" fill="#9a9a9a" />
<rect x="365.20" y="372.60" width="8.50" height="2.00" fill="#9a9a9a" />
<rect x="377.80" y="372.60" width="8.50" height="2.00" fill="#9a9a9a" />
<rect x="390.40" y="372.60" width="8.50" height="2.00" fill="#9a9a9a" />
<rect x="403.00" y="372.60" width="8.50" height="2.00" fill="#9a9a9a" />
<rect x="415.60" y="372.60" width="8.50" height="2.00" fill="#9a9a9a" />
<rect x="428.20" y="372.60" width="8.50" height="2.00" fill="#9a9a9a" />
<rect x="440.80" y="372.60" width="8.50" height="2.00" fill="#9a9a9a" />
<rect x="453.40" y="372.60" width="8.50" height="2.00" fill="#9a9a9a" />
<rect x="466.00" y="372.60" width="8.50" height="2.00" fill="#9a9a9a" />
<rect x="478.60" y="372.60" width="8.50" height="2.00" fill="#9a9a9a" />
<rect x="491.20" y="372.60" width="8.50" height="2.00" fill="#9a9a9a" />
<rect x="503.80" y="372.60" width="8.50" height="2.00" fill="#9a9a9a" />
<rect x="516.40" y="372.60" width="8.50" height="2.00" fill="#9a9a9a" />
<rect x="529.00" y="372.60" width="8.50" height="2.00" fill="#9a9a9a" />
<rect x="541.60" y="372.60" width="8.50" height="2.00" fill="#9a9a9a" />
<rect x="554.20" y="372.60" width="8.50" height="2.00" fill="#9a9a9a" />
<rect x="566.80" y="372.60" width="8.50" height="2.00" fill="#9a9a9a" />
<rect x="579.40" y="372.60" width="8.50" height="2.00" fill="#9a9a9a" />
<rect x="342.00" y="378.20" width="1.20" height="1.20" fill="#ddd" />
<rect x="349.60" y="378.20" width="1.20" height="1.20" fill="#ddd" />
<rect x="357.20" y="378.20" width="1.20" height="1.20" fill="#ddd" />
<rect x="364.80" y="378.20" width="1.20" height="1.20" fill="#ddd" />
<rect x="372.40" y="378.20" width="1.20" height="1.20" fill="#ddd" />
<rect x="380.00" y="378.20" width="1.20" height="1.20" fill="#ddd" />
<rect x="387.60" y="378.20" width="1.20" height="1.20" fill="#ddd" />
<rect x="395.20" y="378.20" width="1.20" height="1.20" fill="#ddd" />
<rect x="402.80" y="378.20" width="1.20" height="1.20" fill="#ddd" />
<rect x="410.40" y="378.20" width="1.20" height="1.20" fill="#ddd" />
<rect x="418.00" y="378.20" width="1.20" height="1.20" fill="#ddd" />
<rect x="425.60" y="378.20" width="1.20" height="1.20" fill="#ddd" />
<rect x="433.20" y="378.20" width="1.20" height="1.20" fill="#ddd" />
<rect x="440.80" y="378.20" width="1.20" height="1.20" fill="#ddd" />
<rect x="448.40" y="378.20" width="1.20" height="1.20" fill="#ddd" />
<rect x="456.00" y="378.20" width="1.20" height="1.20" fill="#ddd" />
<rect x="463.60" y="378.20" width="1.20" height="1.20" fill="#ddd" />
<rect x="471.20" y="378.20" width="1.20" height="1.20" fill="#ddd" />
<rect x="478.80" y="378.20" width="1.20" height="1.20" fill="#ddd" />
<rect x="486.40" y="378.20" width="1.20" height="1.20" fill="#ddd" />
<rect x="494.00" y="378.20" width="1.20" height="1.20" fill="#ddd" />
<rect x="501.60" y="378.20" width="1.20" height="1.20" fill="#ddd" />
<rect x="509.20" y="378.20" width="1.20" height="1.20" fill="#ddd" />
<rect x="516.80" y="378.20" width="1.20" height="1.20" fill="#ddd" />
<rect x="524.40" y="378.20" width="1.20" height="1.20" fill="#ddd" />
<rect x="532.00" y="378.20" width="1.20" height="1.20" fill="#ddd" />
<rect x="539.60" y="378.20" width="1.20" height="1.20" fill="#ddd" />
<rect x="547.20" y="378.20" width="1.20" height="1.20" fill="#ddd" />
<rect x="554.80" y="378.20" width="1.20" height="1.20" fill="#ddd" />
<rect x="562.40" y="378.20" width="1.20" height="1.20" fill="#ddd" />
<rect x="570.00" y="378.20" width="1.20" height="1.20" fill="#ddd" />
<rect x="577.60" y="378.20" width="1.20" height="1.20" fill="#ddd" />
<rect x="585.20" y="378.20" width="1.20" height="1.20" fill="#ddd" />
<rect x="336.50" y="389.40" width="256.90" height="1.90" fill="#231f20" />
<rect x="336.50" y="392.40" width="256.90" height="2.20" fill="#231f20" />
<rect x="336" y="381" width="7.5" height="18" fill="none" stroke="#231f20" stroke-width="1.6"/>
<rect x="586.2" y="381" width="6.8" height="18" fill="none" stroke="#231f20" stroke-width="1.6"/>
<path d="M438.8,318.6 L442,317.1 H481.8 L486.9,319.6 V324.2 H438.8 Z" fill="#231f20"/>
<rect x="455.30" y="320.00" width="24.80" height="2.90" fill="#fff" />
<circle cx="459.20" cy="323.00" r="1.3" fill="#231f20"/>
<circle cx="476.50" cy="323.00" r="1.3" fill="#231f20"/>
<rect x="444.50" y="320.40" width="0.90" height="0.90" fill="#fff" />
<rect x="451.00" y="320.40" width="1.60" height="1.20" fill="#fff" />
<rect x="439.70" y="323.80" width="50.00" height="77.40" fill="#231f20" />
<rect x="441.80" y="326.20" width="45.90" height="29.30" fill="#fff" />
<circle cx="445.60" cy="347.00" r="1.6" fill="#231f20"/>
<circle cx="452.00" cy="347.00" r="1.6" fill="#231f20"/>
<circle cx="470.90" cy="347.00" r="1.6" fill="#231f20"/>
<circle cx="470.90" cy="352.90" r="1.6" fill="#231f20"/>
<circle cx="461.70" cy="349.60" r="5.4" fill="#231f20"/>
<rect x="458.70" y="349.00" width="6.00" height="1.20" fill="#888" />
<circle cx="480.50" cy="349.60" r="5.4" fill="#231f20"/>
<rect x="477.50" y="349.00" width="6.00" height="1.20" fill="#888" />
<rect x="441.70" y="359.20" width="46.10" height="1.80" fill="#fff" />
<rect x="441.70" y="359.20" width="2.10" height="9.70" fill="#fff" />
<rect x="485.60" y="359.20" width="2.20" height="9.70" fill="#fff" />
<rect x="442.00" y="374.30" width="1.80" height="15.00" fill="#fff" />
<rect x="486.00" y="374.30" width="1.80" height="15.00" fill="#fff" />
<rect x="457.1" y="370.7" width="15" height="6.3" rx="2.2" fill="#fff"/>
<circle cx="464.60" cy="374.00" r="2.6" fill="#231f20"/>
<rect x="452.00" y="378.80" width="25.30" height="8.40" fill="#fff" />
<path d="M458.6,384.8 L460.4,381.6 L462.2,384.8 Z M466.7,384.8 L468.5,381.6 L470.3,384.8 Z" fill="#231f20"/>
<rect x="456.50" y="386.00" width="16.20" height="1.60" fill="#231f20" />
<rect x="452.60" y="388.70" width="24.70" height="1.90" fill="#fff" />
<rect x="446.80" y="391.80" width="2.50" height="3.60" fill="#fff" />
<rect x="452.00" y="391.80" width="3.90" height="3.60" fill="#fff" />
<rect x="474.00" y="391.80" width="3.00" height="3.60" fill="#fff" />
<rect x="480.60" y="391.80" width="2.40" height="3.60" fill="#fff" />
<rect x="458.50" y="393.00" width="1.20" height="1.20" fill="#fff" />
<rect x="461.50" y="393.00" width="1.20" height="1.20" fill="#fff" />
<rect x="464.50" y="393.00" width="1.20" height="1.20" fill="#fff" />
<rect x="467.50" y="393.00" width="1.20" height="1.20" fill="#fff" />
<rect x="470.50" y="393.00" width="1.20" height="1.20" fill="#fff" />
<rect x="459.20" y="399.00" width="10.50" height="4.80" fill="#231f20" />
<rect x="461.30" y="399.60" width="6.30" height="1.80" fill="#fff" />
<rect x="440.50" y="399.00" width="2.00" height="5.00" fill="#231f20" />
<rect x="486.50" y="399.00" width="2.00" height="5.00" fill="#231f20" />
<rect x="299.30" y="321.40" width="35.50" height="95.90" fill="#231f20" />
<path d="M310.0,417.0 L315.3,417.0 L315.3,432.4 Z" fill="#231f20"/>
<rect x="327.70" y="320.90" width="5.50" height="10.00" fill="#fff" />
<rect x="306.80" y="316.80" width="3.20" height="11.80" fill="#fff" />
<rect x="312.30" y="325.90" width="11.80" height="1.40" fill="#fff" />
<rect x="307.70" y="333.20" width="22.80" height="1.80" fill="#fff" />
<rect x="312.70" y="336.80" width="3.20" height="5.90" fill="#fff" />
<rect x="325.90" y="336.80" width="3.20" height="5.90" fill="#fff" />
<rect x="316.00" y="351.40" width="16.70" height="0.90" fill="#fff" />
<rect x="318.60" y="359.50" width="4.60" height="5.50" fill="#fff" />
<rect x="312.00" y="359.50" width="3.00" height="2.30" fill="#fff" />
<rect x="328.50" y="358.00" width="3.50" height="10.50" fill="#fff" />
<rect x="325.90" y="389.10" width="3.20" height="1.80" fill="#fff" />
<rect x="325.90" y="399.10" width="3.20" height="1.80" fill="#fff" />
<rect x="325.90" y="407.70" width="3.20" height="2.80" fill="#fff" />
<rect x="306.80" y="398.00" width="3.20" height="8.00" fill="#fff" />
<rect x="306.80" y="410.90" width="3.20" height="6.40" fill="#fff" />
<rect x="313.80" y="394.70" width="3.20" height="22.60" fill="#fff" />
<rect x="319.50" y="403.90" width="4.00" height="11.30" fill="#fff" />
<rect x="312.70" y="377.00" width="3.80" height="4.80" fill="#fff" />
<path d="M332.4,398 V412 Q332.4,414.1 330.3,414.1 H325.3" fill="none" stroke="#fff" stroke-width="1.6"/>
<rect x="327.20" y="417.30" width="2.10" height="14.70" fill="#fff" />
<rect x="281.90" y="339.00" width="28.30" height="22.90" fill="#fff" />
<rect x="271.40" y="319.10" width="31.80" height="2.30" fill="#231f20" />
<rect x="303.20" y="314.10" width="23.60" height="7.30" fill="#231f20" />
<rect x="326.80" y="319.10" width="8.20" height="2.30" fill="#231f20" />
<rect x="277.00" y="321.40" width="4.90" height="55.30" fill="#231f20" />
<rect x="274.00" y="324.50" width="3.00" height="3.70" fill="#231f20" />
<rect x="271.40" y="336.00" width="38.60" height="2.70" fill="#231f20" />
<path d="M283.3,341.4 H308.7 V357.0 Q308.7,357.8 307.9,357.8 H303.9 Q303.1,357.8 303.1,357.0 V350.8 H288.9 V357.0 Q288.9,357.8 288.1,357.8 H284.1 Q283.3,357.8 283.3,357.0 Z" fill="#231f20"/>
<rect x="286.00" y="344.00" width="20.00" height="3.40" fill="#fff" />
<rect x="271.40" y="361.90" width="38.80" height="3.90" fill="#231f20" />
<rect x="277.00" y="365.00" width="27.00" height="11.70" fill="#231f20" />
<rect x="286.4" y="365.2" width="11.6" height="8.8" rx="1.5" fill="#fff"/>
<rect x="303.90" y="365.80" width="6.30" height="8.20" fill="#fff" />
<rect x="277.00" y="374.00" width="33.20" height="2.70" fill="#231f20" />
<rect x="594.50" y="319.00" width="63.50" height="5.00" fill="#231f20" />
<rect x="603.20" y="314.10" width="22.30" height="5.40" fill="#231f20" />
<rect x="594.50" y="319.00" width="33.10" height="101.00" fill="#231f20" />
<rect x="627.60" y="319.00" width="17.40" height="81.00" fill="#231f20" />
<rect x="645.00" y="319.00" width="2.60" height="11.50" fill="#231f20" />
<rect x="645.00" y="364.00" width="2.60" height="36.00" fill="#231f20" />
<rect x="627.30" y="321.20" width="28.20" height="1.40" fill="#fff" />
<rect x="596.40" y="321.40" width="5.40" height="6.80" fill="#fff" />
<rect x="620.00" y="316.80" width="2.30" height="11.80" fill="#fff" />
<rect x="625.00" y="324.50" width="4.50" height="5.00" fill="#fff" />
<rect x="634.00" y="325.00" width="5.50" height="5.00" fill="#fff" />
<rect x="598.60" y="333.20" width="23.70" height="1.80" fill="#fff" />
<rect x="600.00" y="337.30" width="4.20" height="1.80" fill="#fff" />
<rect x="612.80" y="337.30" width="4.00" height="1.80" fill="#fff" />
<rect x="624.10" y="337.30" width="4.50" height="1.80" fill="#fff" />
<rect x="635.50" y="337.70" width="5.50" height="21.80" fill="#fff" />
<rect x="602.70" y="350.90" width="30.00" height="1.40" fill="#fff" />
<rect x="606.40" y="358.60" width="4.50" height="7.30" fill="#fff" />
<rect x="613.20" y="359.50" width="3.60" height="2.80" fill="#fff" />
<rect x="619.50" y="358.60" width="2.30" height="3.20" fill="#fff" />
<rect x="600.00" y="368.60" width="4.50" height="2.80" fill="#fff" />
<rect x="612.70" y="368.60" width="4.10" height="2.80" fill="#fff" />
<rect x="610.90" y="374.10" width="13.20" height="1.40" fill="#fff" />
<rect x="613.20" y="376.80" width="3.20" height="4.60" fill="#fff" />
<rect x="600.00" y="389.00" width="4.50" height="2.00" fill="#fff" />
<rect x="612.70" y="389.00" width="4.10" height="2.00" fill="#fff" />
<rect x="619.50" y="393.60" width="2.80" height="4.60" fill="#fff" />
<rect x="600.00" y="398.60" width="4.50" height="1.90" fill="#fff" />
<rect x="612.70" y="398.60" width="4.10" height="1.90" fill="#fff" />
<rect x="612.70" y="407.70" width="4.10" height="2.30" fill="#fff" />
<rect x="619.50" y="406.00" width="2.80" height="6.00" fill="#fff" />
<rect x="605.50" y="416.80" width="5.00" height="3.20" fill="#fff" />
<rect x="612.30" y="416.80" width="3.70" height="3.20" fill="#fff" />
<rect x="619.50" y="416.80" width="2.80" height="3.20" fill="#fff" />
<path d="M596.8,357.7 H603.5 Q606,357.7 606,363 Q606,368.6 603.5,368.6 H596.8 Z" fill="#fff"/>
<circle cx="638.20" cy="346.80" r="1.7" fill="#231f20"/>
<rect x="652.60" y="324.00" width="2.50" height="5.50" fill="#231f20" />
</g>
<rect x="344.20" y="832.50" width="94.50" height="20.90" fill="#231f20" />
<rect x="346.40" y="834.90" width="90.10" height="15.50" fill="#fff" />
<rect x="396.20" y="834.00" width="40.30" height="12.00" fill="#231f20" />
<rect x="398.40" y="834.90" width="38.10" height="8.50" fill="#fff" />
<rect x="429.20" y="834.90" width="1.60" height="8.50" fill="#231f20" />
<rect x="627.00" y="362.50" width="20.60" height="38.50" fill="#231f20" />
<rect x="627.70" y="363.90" width="19.30" height="1.10" fill="#fff" />
<rect x="627.70" y="365.80" width="19.30" height="4.80" fill="#f2f2f2" />
<rect x="629.00" y="366.60" width="16.50" height="0.60" fill="#777" />
<rect x="629.00" y="368.60" width="16.50" height="0.60" fill="#777" />
<rect x="627.70" y="371.70" width="19.30" height="2.40" fill="#176fbf" />
<rect x="630.50" y="372.40" width="14.00" height="0.90" fill="#cfe0f2" />
<rect x="627.70" y="375.00" width="19.30" height="1.80" fill="#fff" />
<rect x="627.70" y="378.20" width="19.30" height="4.80" fill="#f2f2f2" />
<rect x="629.00" y="379.20" width="16.50" height="0.60" fill="#777" />
<rect x="629.00" y="381.20" width="16.50" height="0.60" fill="#777" />
<rect x="627.70" y="383.80" width="19.30" height="3.00" fill="#176fbf" />
<rect x="630.50" y="384.80" width="14.00" height="0.90" fill="#cfe0f2" />
<rect x="627.70" y="388.10" width="19.30" height="1.90" fill="#fff" />
<rect x="627.70" y="390.60" width="13.80" height="8.00" fill="#f2f2f2" />
<rect x="629.00" y="391.50" width="11.00" height="0.60" fill="#777" />
<rect x="629.00" y="393.50" width="11.00" height="0.60" fill="#777" />
<rect x="627.70" y="396.30" width="9.80" height="2.10" fill="#fff000" />
<rect x="642.30" y="390.60" width="4.70" height="9.40" fill="#f2f2f2" />
<path d="M644.7,392.5 L646.6,396.5 L642.8,396.5 Z" fill="#e5d200"/>
<rect x="282.30" y="777.00" width="20.30" height="38.60" fill="#231f20" />
<rect x="283.00" y="778.10" width="19.10" height="14.00" fill="#fff" />
<rect x="288.90" y="778.70" width="13.20" height="2.90" fill="#fff000" />
<rect x="288.30" y="778.50" width="0.60" height="10.00" fill="#231f20" />
<path d="M285.8,781.0 L288.0,785.2 L283.6,785.2 Z" fill="#e5d200"/>
<rect x="289.50" y="783.00" width="12.00" height="0.60" fill="#777" />
<rect x="289.50" y="785.00" width="12.00" height="0.60" fill="#777" />
<rect x="289.50" y="787.00" width="12.00" height="0.60" fill="#777" />
<rect x="283.00" y="792.60" width="19.10" height="3.30" fill="#176fbf" />
<rect x="286.00" y="793.60" width="14.00" height="1.00" fill="#cfe0f2" />
<rect x="283.00" y="797.00" width="19.10" height="4.80" fill="#f2f2f2" />
<rect x="284.00" y="798.00" width="17.00" height="0.60" fill="#777" />
<rect x="284.00" y="800.20" width="17.00" height="0.60" fill="#777" />
<rect x="283.00" y="803.10" width="19.10" height="1.60" fill="#fff" />
<rect x="283.00" y="806.10" width="19.10" height="2.70" fill="#176fbf" />
<rect x="286.00" y="807.00" width="14.00" height="0.90" fill="#cfe0f2" />
<rect x="283.00" y="810.10" width="19.10" height="4.60" fill="#f2f2f2" />
<rect x="284.00" y="811.00" width="17.00" height="0.60" fill="#777" />
<rect x="284.00" y="813.00" width="17.00" height="0.60" fill="#777" />
<line x1="696.00" y1="290.50" x2="651.63" y2="349.42" stroke="#fff" stroke-width="3.0"/>
<line x1="696.00" y1="290.50" x2="651.63" y2="349.42" stroke="#231f20" stroke-width="1.0"/>
<path d="M641.10,363.40 L647.47,346.29 L655.78,352.55 Z" fill="#231f20" stroke="#fff" stroke-width="1.3" stroke-linejoin="miter"/>
<line x1="691.20" y1="366.60" x2="664.76" y2="373.30" stroke="#fff" stroke-width="3.0"/>
<line x1="691.20" y1="366.60" x2="664.76" y2="373.30" stroke="#231f20" stroke-width="1.0"/>
<path d="M647.80,377.60 L663.49,368.26 L666.04,378.34 Z" fill="#231f20" stroke="#fff" stroke-width="1.3" stroke-linejoin="miter"/>
<line x1="691.20" y1="467.30" x2="651.46" y2="413.20" stroke="#fff" stroke-width="3.0"/>
<line x1="691.20" y1="467.30" x2="651.46" y2="413.20" stroke="#231f20" stroke-width="1.0"/>
<path d="M641.10,399.10 L655.65,410.12 L647.27,416.28 Z" fill="#231f20" stroke="#fff" stroke-width="1.3" stroke-linejoin="miter"/>
<line x1="231.20" y1="672.30" x2="276.52" y2="762.17" stroke="#fff" stroke-width="3.0"/>
<line x1="231.20" y1="672.30" x2="276.52" y2="762.17" stroke="#231f20" stroke-width="1.0"/>
<path d="M284.40,777.80 L271.88,764.52 L281.16,759.83 Z" fill="#231f20" stroke="#fff" stroke-width="1.3" stroke-linejoin="miter"/>
<line x1="248.10" y1="781.50" x2="268.44" y2="788.85" stroke="#fff" stroke-width="3.0"/>
<line x1="248.10" y1="781.50" x2="268.44" y2="788.85" stroke="#231f20" stroke-width="1.0"/>
<path d="M284.90,794.80 L266.67,793.74 L270.21,783.96 Z" fill="#231f20" stroke="#fff" stroke-width="1.3" stroke-linejoin="miter"/>
<line x1="225.00" y1="870.00" x2="272.47" y2="826.69" stroke="#fff" stroke-width="3.0"/>
<line x1="225.00" y1="870.00" x2="272.47" y2="826.69" stroke="#231f20" stroke-width="1.0"/>
<path d="M285.40,814.90 L275.98,830.54 L268.97,822.85 Z" fill="#231f20" stroke="#fff" stroke-width="1.3" stroke-linejoin="miter"/>
</svg>
</body></html>
